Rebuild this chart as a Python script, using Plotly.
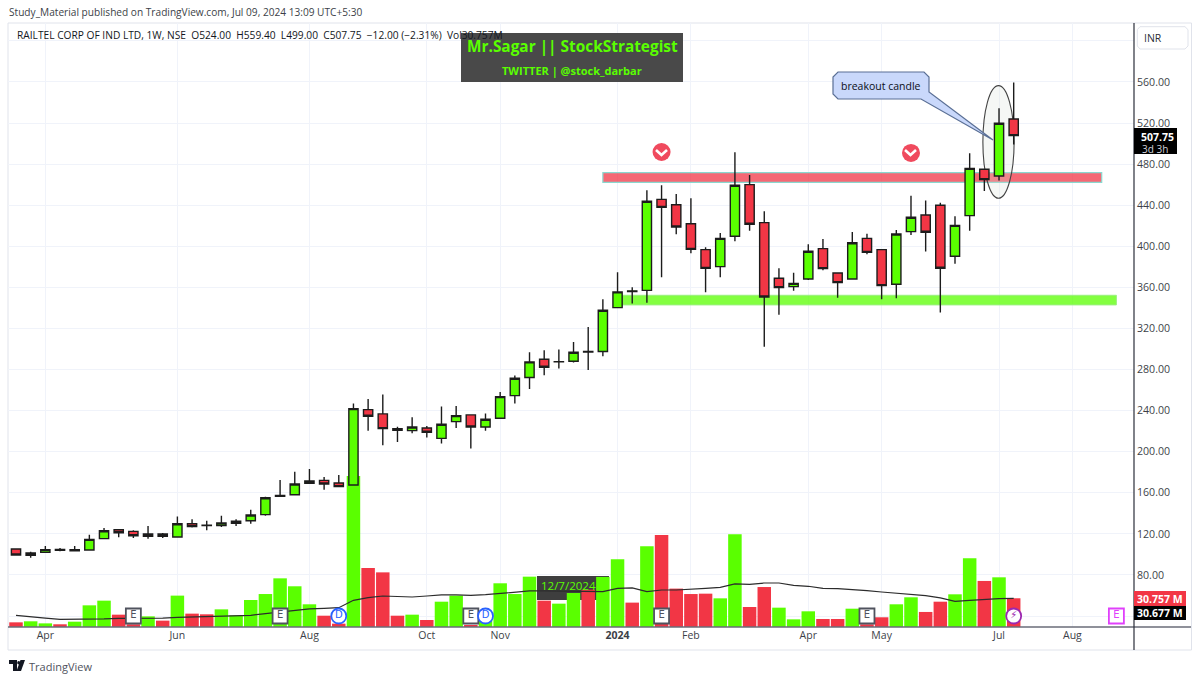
import pandas as pd
import plotly.graph_objects as go

weeks = pd.date_range("2023-03-20", periods=69, freq="W-MON")

opens = [105.2,99.1,102,103.9,103.6,104.2,115.3,124,122.4,117.6,119.8,116.9,129.9,128,128,130.2,132.8,138.7,156.5,158.1,169.2,172.1,169.5,167.5,
         241,236.8,222.5,220.5,223.1,213,229.3,235.8,224.1,232.6,254.6,272.2,290,287.4,288,297.1,297.5,340.3,356,357.1,445.7,440.5,422,396.7,380.2,409.7,460,423,368.8,
         360.7,368.1,397.7,374,368.1,407.7,396.7,363,414.3,430.5,440,390.3,429.8,475,468.5,524]
highs = [105.2,102.6,108.1,106.2,108.1,119.2,125.7,124.4,123.4,127.6,120.8,137,134.1,132.8,137.7,134.1,143.5,156.2,172.4,180.5,183.1,175.3,177.3,247,
         251.4,255.6,224.4,233.5,225.1,243.9,244.6,236,237.1,258.2,274.1,296.8,298.8,299.4,306.9,321.5,348.4,374.7,360.1,454.5,459.4,450.9,446.7,399,413,491.5,469.4,434,378.5,
         374.3,401.9,407.1,374,413.9,412.3,396.7,415.9,449.3,444.5,442.5,429.2,490.5,475,534.4,559.4]
lows = [99.4,96.8,101.7,103,103.3,104,115,116.6,116,115.3,116,116.6,126.3,123.4,126.6,127.6,129.9,137.7,156.5,157.8,168.8,163,165.6,167,
        220.5,206.3,209.5,218,213.7,207.9,223.1,203,220.5,231.9,246.8,261.1,274.4,280.9,286.8,279.6,292.9,340,344.2,345.1,369.8,411.6,393.1,355.2,369.8,404.8,415.2,302.2,333.4,
        356.8,367.2,376.6,350,367.8,392.2,348.4,349.3,411,394.8,335.4,383.1,415.2,453.9,464,499]
closes = [99.4,101.3,104.6,104.9,104.6,114.6,123,121.1,118.2,119.8,117.6,129.9,127,128.3,130.6,132.2,138.3,155.2,157.5,168.5,171.4,168.5,166,241.9,
          234.5,222.5,220.9,224.1,218.9,226.7,235.1,224.1,231.6,253.6,271.5,287.4,282.2,287.7,296.8,297.5,337.7,355.6,356.6,443.8,437.9,418.8,397,378.5,407.7,459.4,421.4,350.6,359.7,
          363.9,395.1,378.2,364.6,403.5,394.1,361.7,412,428.2,413.6,378.6,420.4,475.9,464.9,519.8,507.75]
volumes_m = [5,6.1,3.9,2.9,5.7,23.2,28.2,13.2,2.9,11.4,6.8,33.6,14.3,13.6,18.9,12.5,28.9,35.3,52.1,43.6,24.3,12.1,3.6,161.7,
             63.2,58.5,12.1,13.2,7.5,27.1,33.6,2.1,10.7,46.8,35.3,53.9,28.2,25,36.4,40,53.6,72.5,26.1,86.4,98.5,41.1,35.3,35.7,30.7,99.2,21.4,42.8,20.7,
             8.2,16.8,8.6,8.6,19.6,2.9,10.4,24.3,31.8,16.1,27.1,35,73.5,49.3,53.2,30.757]
volume_dir = list("rggrgggrrgrgrrgggggggrrgrrrgrggrggggrggrggrgrrrrggrrgggrrgrrggrrggrgr")
volume_ma_m = [12.5,10.7,9.6,8.2,8.2,8.2,8.6,9.3,9.3,8.9,9.6,10.4,10.7,11.1,11.4,11.8,12.5,14.3,16.1,18.2,19.3,20,20.7,28.6,
               31.4,33.2,32.5,32.1,33.2,34.3,34.3,33.9,34.6,35.7,37.1,38.6,38.6,38.2,37.8,37.5,37.8,41.4,41.8,37.8,39.6,39.6,40.3,41.4,42.5,46.1,45.7,47.1,47.1,
               44.6,43.6,41.4,41.1,40.3,38.9,37.5,36.1,34.3,33.6,31.1,27.5,28.6,29.6,30.3,30.677]
price_ticks = [40,80,120,160,200,240,280,320,360,400,440,480,520,560,600]
price_labels = ["","80.00","120.00","160.00","200.00","240.00","280.00","320.00","360.00","400.00","440.00","480.00","520.00","560.00",""]
month_idx = [2,11,20,28,33,41,46,54,59,67,72]
month_labels = ["Apr","Jun","Aug","Oct","Nov","<b>2024</b>","Feb","Apr","May","Jul","Aug"]
event_idx = [8,18,22,31,32,44,58,68,75]
event_text = ["E","E","D","E","D","E","E","⚡","E"]
event_symbol = ["square","square","circle","square","circle","square","square","circle","square"]
event_line = ["#50535e","#50535e","#2962ff","#50535e","#2962ff","#50535e","#50535e","#9c27b0","#e040fb"]
event_textcolor = ["#50535e","#50535e","#2962ff","#50535e","#2962ff","#50535e","#50535e","#9c27b0","#e040fb"]
event_level_m = [11.8]*9
signal_idx = [44,61]
signal_price = [491.8,490.9]

GREEN = "#5AFF00"; RED = "#F23645"; DARK = "#1c1c1c"; TXT = "#131722"; FONT = "Open Sans"
W, H = 1200, 681
L, R, T, B = 8, 1134, 23, 627
price_range = [29.3, 617.4]
vol_range = [0, 646.7]
week_ms = pd.Timedelta(days=7)
wk = lambda i: weeks[0] + week_ms * i
px = lambda x: (x - L) / (R - L)
py = lambda y: (B - y) / (B - T)
price = lambda y: 560 - (y - 82) / 1.027

fig = go.Figure()
fig.add_bar(x=weeks, y=volumes_m, yaxis="y2", marker=dict(color=[GREEN if d == "g" else RED for d in volume_dir], line_width=0), hoverinfo="skip", showlegend=False)
fig.add_scatter(x=weeks, y=volume_ma_m, yaxis="y2", mode="lines", line=dict(color="#2c2c2c", width=1.2), hoverinfo="skip", showlegend=False)
fig.add_scatter(x=[wk(i) for i in event_idx], y=event_level_m, yaxis="y2", mode="markers+text", text=event_text, textposition="middle center",
                textfont=dict(family="DejaVu Sans", size=10, color=event_textcolor),
                marker=dict(symbol=event_symbol, size=15, color="white", line=dict(color=event_line, width=1.8)), hoverinfo="skip", showlegend=False)
fig.add_candlestick(x=weeks, open=opens, high=highs, low=lows, close=closes, yaxis="y3", whiskerwidth=0,
                    increasing=dict(fillcolor=GREEN, line=dict(color=DARK, width=1.4)),
                    decreasing=dict(fillcolor=RED, line=dict(color=DARK, width=1.4)), hoverinfo="skip", showlegend=False)
fig.add_scatter(x=[wk(i) for i in signal_idx], y=signal_price, yaxis="y3", mode="markers",
                marker=dict(size=18, color="#F04A5E", line_width=0), hoverinfo="skip", showlegend=False)

def paper_rect(x0, y0, x1, y1, fill=None, line=None, lw=1, layer="above", opacity=1):
    return dict(type="rect", xref="paper", yref="paper", x0=px(x0), x1=px(x1), y0=py(y1), y1=py(y0), fillcolor=fill or "rgba(0,0,0,0)",
                line=dict(color=line or "rgba(0,0,0,0)", width=lw), layer=layer, opacity=opacity)

def paper_path(points, fill=None, line=None, lw=1, close=True, layer="above"):
    d = "M " + " L ".join(f"{px(a):.5f},{py(b):.5f}" for a, b in points) + (" Z" if close else "")
    return dict(type="path", xref="paper", yref="paper", path=d, fillcolor=fill or "rgba(0,0,0,0)", line=dict(color=line or "rgba(0,0,0,0)", width=lw), layer=layer)

def note(x, y, text, size=10.5, color=TXT, anchor="left", family=FONT):
    return dict(xref="paper", yref="paper", x=px(x), y=py(y), text=text, showarrow=False, xanchor=anchor, yanchor="middle",
                font=dict(size=size, color=color, family=family), borderpad=0)

shapes = [
    paper_rect(L, T, 1191.5, 650, line="#e0e3eb", lw=1, layer="below"),
    paper_rect(537, 576, 609, 600, fill="#3e3e3e", layer="below"),
    dict(type="rect", xref="x", yref="y", x0=wk(40), x1=wk(74), y0=462.3, y1=471.7, fillcolor="rgba(242,54,69,0.75)", line=dict(color="#8AD8CF", width=1.2), layer="between"),
    dict(type="rect", xref="x", yref="y", x0=wk(41), x1=wk(75), y0=342.9, y1=352.3, fillcolor="rgba(90,255,0,0.75)", line=dict(color="#9BEF80", width=1), layer="between"),
    dict(type="circle", xref="x", yref="y", x0=wk(65.9), x1=wk(68.03), y0=price(198.3), y1=price(85.7), fillcolor="rgba(215,222,215,0.25)", line=dict(color="#444444", width=1.1), layer="between"),
    paper_path([(L,627),(1191,627)], line="#6a6d78", lw=1.5, close=False),
    paper_path([(1134,T),(1134,650)], line="#2a2e39", lw=1.2, close=False),
    paper_rect(461, 33, 683, 82, fill="#444444", opacity=0.97),
    paper_path([(838,72),(924,72),(929,77),(929,92),(993,140),(921,99),(838,99),(833,94),(833,77)], fill="#C9D8FB", line="#5a6f95", lw=1.2),
    paper_path([(1140,26.7),(1185,26.7),(1188,29.7),(1188,46),(1185,49),(1140,49),(1137.3,46),(1137.3,29.7)], line="#e0e3eb", lw=1),
    paper_rect(1134, 128, 1177, 154, fill="#000000"),
    paper_rect(1134, 591, 1186, 606, fill=RED),
    paper_rect(1134, 606, 1186, 620, fill="#000000"),
    paper_path([(656,150),(661.5,155),(667,150)], line="white", lw=2.6, close=False),
    paper_path([(905,150),(910.5,155),(916,150)], line="white", lw=2.6, close=False),
    paper_path([(9,660),(17,660),(17,671),(13,671),(13,664),(9,664)], fill="#131722"),
    dict(type="circle", xref="paper", yref="paper", x0=px(17.2), x1=px(20.2), y0=py(664.5), y1=py(661), fillcolor="#131722", line_width=0),
    paper_path([(20.5,660),(25,660),(21,671),(16.5,671)], fill="#131722"),
]
annotations = [
    note(8, 12, "Study_Material published on TradingView.com, Jul 09, 2024 13:09 UTC+5:30", 10.15, "#3c3f48"),
    note(16, 35, "RAILTEL CORP OF IND LTD, 1W, NSE  O524.00  H559.40  L499.00  C507.75  −12.00 (−2.31%)  Vol30.757M", 10.2),
    note(572, 47, "<b>Mr.Sagar || StockStrategist</b>", 15.4, GREEN, "center"),
    note(572, 71, "<b>TWITTER | @stock_darbar</b>", 11, GREEN, "center"),
    note(881, 86, "breakout candle", 10.5, "#0c0f18", "center"),
    note(568, 585, "12/7/2024", 11.5, GREEN, "center"),
    note(1153, 38, "INR", 10.5, "#2a2e39", "center"),
    note(1157, 137, "<b>507.75</b>", 10.5, "white", "center"),
    note(1155, 149, "3d 3h", 10, "#d0d3db", "center"),
    note(1160, 598.5, "<b>30.757 M</b>", 10.5, "white", "center"),
    note(1160, 613, "<b>30.677 M</b>", 10.5, "white", "center"),
    note(28, 666, "TradingView", 11, "#50535e"),
]

fig.update_layout(
    width=W, height=H, margin=dict(l=L, r=W - R, t=T, b=H - B), paper_bgcolor="white", plot_bgcolor="white", showlegend=False,
    bargap=0.08, boxgap=0.1, hovermode=False, shapes=shapes, annotations=annotations,
    font=dict(family=FONT, size=10.5, color=TXT),
    xaxis=dict(range=[wk(-0.545), wk(76.2)], tickmode="array", tickvals=[wk(i) for i in month_idx], ticktext=month_labels, ticks="", showline=False, zeroline=False,
               showgrid=True, gridcolor="#f0f3fa", gridwidth=1, rangeslider=dict(visible=False), tickfont=dict(size=10.5, color="#3c3f48")),
    yaxis=dict(range=price_range, side="right", tickmode="array", tickvals=price_ticks, ticktext=price_labels, showgrid=True, gridcolor="#f0f3fa", zeroline=False, ticks="", ticklabelstandoff=2, tickfont=dict(size=10.6, color="#3c3f48")),
    yaxis2=dict(range=vol_range, overlaying="y", visible=False),
    yaxis3=dict(range=price_range, overlaying="y", visible=False),
)
fig.write_html("out.html", config=dict(displayModeBar=False), post_script="document.body.style.margin='0';")
